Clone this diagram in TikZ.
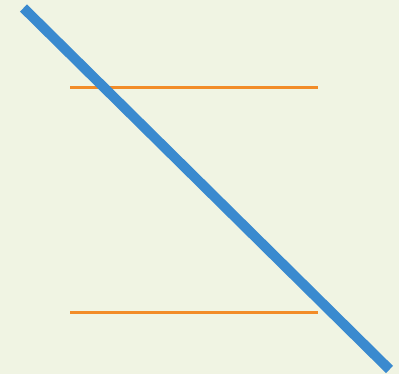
\documentclass[tikz,border=0pt]{standalone}
\usepackage{tikz}
\usepackage{xcolor}
\usetikzlibrary{calc}

\definecolor{bgpaper}{HTML}{F0F4E3}
\definecolor{diagblue}{HTML}{3A8ACF}
\definecolor{railorange}{HTML}{F28C28}

\begin{document}
\begin{tikzpicture}[
          x=1pt, y=-1pt,
          rail/.style={draw=railorange, line width=3pt},
          slash/.style={draw=diagblue, line width=10pt}
      ]
        \fill[bgpaper] (0,0) rectangle (399,374);
        \useasboundingbox (0,0) rectangle (399,374);
        \coordinate (topL) at (70,88);
        \coordinate (topR) at (318,88);
        \coordinate (botL) at (70,312);
        \coordinate (botR) at (318,312);
        \coordinate (slashA) at (23.5,8);
        \coordinate (slashB) at (389.5,369.5);
        \draw[rail] (topL) -- (topR);
        \draw[rail] (botL) -- (botR);
        \draw[slash] (slashA) -- (slashB);
      \end{tikzpicture}
\end{document}
